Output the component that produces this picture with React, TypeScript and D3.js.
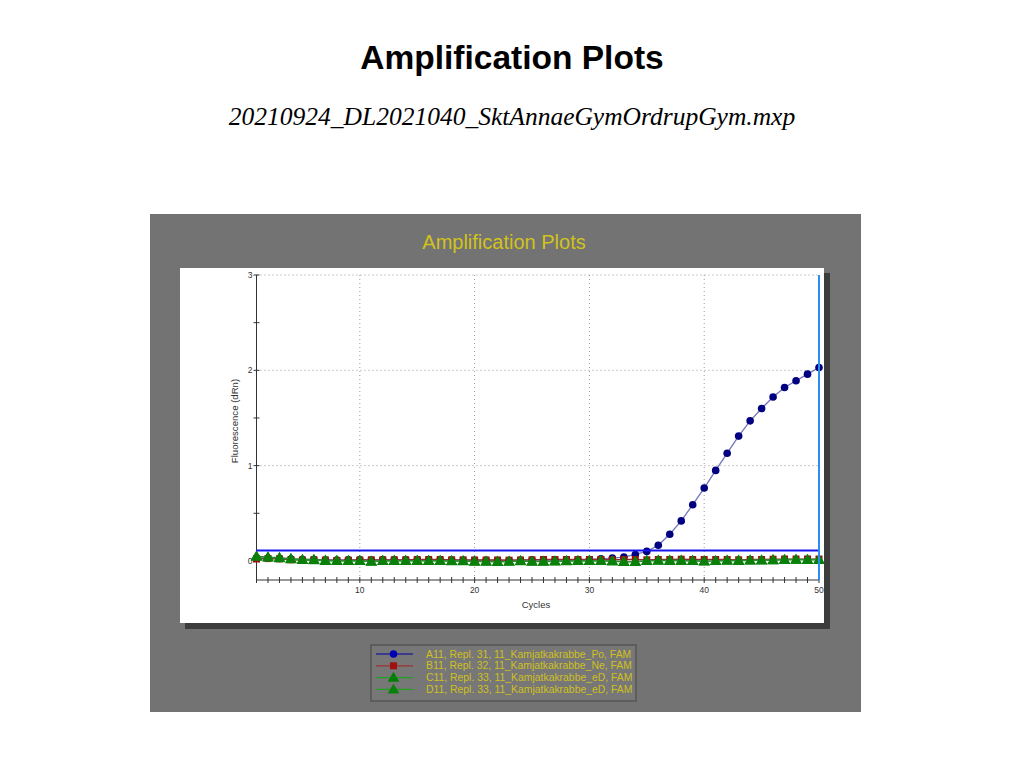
import React from "react";
import * as d3 from "d3";

// cycle numbers 1..50
const cycles = d3.range(1, 51);

// A11 (positive), dRn per cycle
const seriesA = [
  0.03, 0.03, 0.025, 0.02, 0.015, 0.015, 0.01, 0.01, 0.012, 0.012,
  0.01, 0.012, 0.012, 0.012, 0.012, 0.01, 0.01, 0.01, 0.005, 0.008,
  0.008, 0.005, 0.005, 0.008, 0.01, 0.012, 0.01, 0.01, 0.012, 0.015,
  0.022, 0.03, 0.04, 0.068, 0.1, 0.165, 0.28, 0.42, 0.59, 0.765,
  0.95, 1.13, 1.31, 1.47, 1.6, 1.72, 1.82, 1.89, 1.96, 2.03,
];
// B11 (negative)
const seriesB = [
  0.02, 0.025, 0.022, 0.012, 0.01, 0.012, 0.01, 0.005, 0.008, 0.01,
  0.012, 0.012, 0.012, 0.012, 0.015, 0.015, 0.015, 0.012, 0.012, 0.01,
  0.01, 0.01, 0.008, 0.01, 0.012, 0.015, 0.015, 0.015, 0.015, 0.015,
  0.015, 0.012, 0.015, 0.015, 0.012, 0.015, 0.015, 0.018, 0.015, 0.015,
  0.015, 0.015, 0.012, 0.015, 0.015, 0.018, 0.02, 0.02, 0.02, 0.02,
];
// C11 / D11 (extraction controls)
const seriesC = [
  0.05, 0.04, 0.035, 0.025, 0.015, 0.015, 0.005, 0.0, 0.002, 0.002,
  -0.008, 0.002, 0.002, 0.002, 0.003, 0.003, 0.002, 0.0, -0.002, -0.005,
  -0.005, -0.008, -0.008, 0.0, -0.005, -0.005, -0.003, 0.0, 0.0, 0.002,
  0.0, 0.0, -0.008, -0.01, 0.0, 0.005, 0.005, 0.005, 0.002, -0.002,
  0.0, 0.005, 0.005, 0.005, 0.008, 0.01, 0.015, 0.015, 0.012, 0.012,
];
const seriesD = [
  0.045, 0.038, 0.03, 0.02, 0.012, 0.01, 0.002, 0.002, 0.0, 0.0,
  -0.005, 0.0, 0.003, 0.0, 0.002, 0.0, 0.0, -0.002, 0.0, -0.008,
  -0.008, -0.01, -0.005, -0.002, -0.008, -0.008, -0.005, -0.002, 0.0, 0.0,
  0.002, -0.005, -0.01, -0.008, 0.002, 0.003, 0.002, 0.002, 0.0, -0.005,
  0.0, 0.003, 0.002, 0.005, 0.005, 0.01, 0.012, 0.015, 0.015, 0.015,
];

const legendLabels = [
  "A11, Repl. 31, 11_Kamjatkakrabbe_Po, FAM",
  "B11, Repl. 32, 11_Kamjatkakrabbe_Ne, FAM",
  "C11, Repl. 33, 11_Kamjatkakrabbe_eD, FAM",
  "D11, Repl. 33, 11_Kamjatkakrabbe_eD, FAM",
];

const yMajorTicks = [0, 1, 2, 3];
const yMinorTicks = [0.5, 1.5, 2.5];
const xLabelTicks = [10, 20, 30, 40, 50];
const threshold = 0.11;

const series = [
  { values: seriesA, line: "#7474bc", marker: "#000080", shape: "circle", legendLine: "#0000a0" },
  { values: seriesB, line: "#8b3030", marker: "#a01010", shape: "square", legendLine: "#a03030" },
  { values: seriesC, line: "#2e8b2e", marker: "#008000", shape: "triangle", legendLine: "#22a022" },
  { values: seriesD, line: "#2e8b2e", marker: "#0a800a", shape: "triangle", legendLine: "#22a022" },
];

const sans = "'Liberation Sans', Arial, sans-serif";

const x = d3.scaleLinear().domain([1, 50]).range([256.5, 819]);
const y = d3.scaleLinear().domain([-0.2, 3]).range([580, 275]);

const triPath = d3.symbol(d3.symbolTriangle, 58)()!;

function Marker({ shape, cx, cy, color }: { shape: string; cx: number; cy: number; color: string }) {
  if (shape === "circle") return <circle cx={cx} cy={cy} r={3.8} fill={color} />;
  if (shape === "square") return <rect x={cx - 3.5} y={cy - 3.5} width={7} height={7} fill={color} />;
  return <path d={triPath} transform={`translate(${cx},${cy + 0.8})`} fill={color} />;
}

export default function App() {
  const line = (vals: number[]) =>
    d3.line<number>().x((_, i) => x(cycles[i])).y((v) => y(v))(vals) || "";

  return (
    <svg width={1024} height={768} style={{ position: "absolute", left: 0, top: 0 }}>
      <rect width={1024} height={768} fill="#fff" />
      <text x={512} y={69} textAnchor="middle" fontFamily={sans} fontWeight="bold" fontSize={33.5} fill="#000">
        Amplification Plots
      </text>
      <text x={512} y={125} textAnchor="middle" fontFamily="'Liberation Serif', 'Times New Roman', serif" fontStyle="italic" fontSize={25.5} fill="#000">
        20210924_DL2021040_SktAnnaeGymOrdrupGym.mxp
      </text>

      {/* grey panel */}
      <rect x={150} y={214} width={711} height={498} fill="#737373" />
      <text x={504} y={249} textAnchor="middle" fontFamily={sans} fontSize={20} fill="#d2c21c">
        Amplification Plots
      </text>

      {/* white plot box with shadow */}
      <rect x={185} y={273} width={645} height={356} fill="#3c3c3c" />
      <rect x={180} y={268} width={644} height={355} fill="#fff" />

      {/* grid */}
      {yMajorTicks.filter((t) => t > 0).map((t) => (
        <line key={"gy" + t} x1={x(1)} x2={x(50)} y1={y(t)} y2={y(t)} stroke="#999" strokeDasharray="1,3" />
      ))}
      {xLabelTicks.filter((t) => t < 50).map((t) => (
        <line key={"gx" + t} x1={x(t)} x2={x(t)} y1={y(3)} y2={y(-0.2)} stroke="#999" strokeDasharray="1,3" />
      ))}

      {/* axes */}
      <line x1={x(1)} x2={x(1)} y1={y(3)} y2={y(-0.2)} stroke="#333" />
      <line x1={x(1)} x2={x(50)} y1={y(-0.2)} y2={y(-0.2)} stroke="#333" />
      {[...yMajorTicks, ...yMinorTicks].map((t) => (
        <line key={"yt" + t} x1={x(1) - 3} x2={x(1) + 3} y1={y(t)} y2={y(t)} stroke="#333" />
      ))}
      {yMajorTicks.map((t) => (
        <text key={"yl" + t} x={x(1) - 4} y={y(t) + 3} textAnchor="end" fontFamily={sans} fontSize={8.5} fill="#333">
          {t}
        </text>
      ))}
      {cycles.map((c) => (
        <line key={"xt" + c} x1={x(c)} x2={x(c)} y1={y(-0.2) - 3} y2={y(-0.2) + 3} stroke="#333" />
      ))}
      {xLabelTicks.map((t) => (
        <text key={"xl" + t} x={x(t)} y={593} textAnchor="middle" fontFamily={sans} fontSize={8.5} fill="#333">
          {t}
        </text>
      ))}
      <text x={536} y={608} textAnchor="middle" fontFamily={sans} fontSize={9.5} fill="#333">
        Cycles
      </text>
      <text transform={`translate(238,421) rotate(-90)`} textAnchor="middle" fontFamily={sans} fontSize={9.6} fill="#333">
        Fluorescence (dRn)
      </text>

      {/* series */}
      {series.map((s, si) => (
        <g key={"s" + si}>
          <path d={line(s.values)} fill="none" stroke={s.line} strokeWidth={1.3} />
          {s.values.map((v, i) => (
            <Marker key={i} shape={s.shape} cx={x(cycles[i])} cy={y(v)} color={s.marker} />
          ))}
        </g>
      ))}

      {/* threshold and end-cycle marker */}
      <line x1={x(1)} x2={x(50)} y1={y(threshold)} y2={y(threshold)} stroke="#1414f0" strokeWidth={2} />
      <line x1={x(50)} x2={x(50)} y1={y(3)} y2={y(-0.2)} stroke="#2b8ef0" strokeWidth={2} />

      {/* legend */}
      <rect x={371} y={645} width={265} height={56} fill="#777" stroke="#555" strokeWidth={1.5} />
      {legendLabels.map((lab, i) => {
        const cy = 654 + i * 11.8;
        const s = series[i];
        return (
          <g key={"lg" + i}>
            <line x1={376} x2={413} y1={cy} y2={cy} stroke={s.legendLine} strokeWidth={1.2} />
            <Marker shape={s.shape} cx={393.5} cy={cy} color={s.marker === "#000080" ? "#0000b0" : s.marker} />
            <text x={426} y={cy + 3.6} fontFamily={sans} fontSize={10.4} fill="#cfc020">
              {lab}
            </text>
          </g>
        );
      })}
    </svg>
  );
}
